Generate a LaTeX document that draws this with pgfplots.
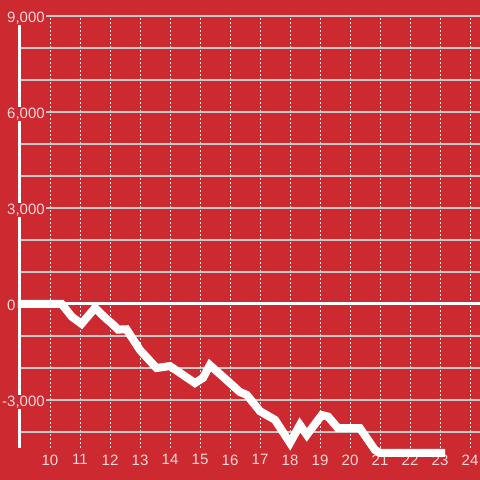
\documentclass[border=0pt]{standalone}
\usepackage{pgfplots}
\pgfplotsset{compat=1.18}
\usepackage{fontspec}
\setmainfont{Liberation Sans}
\definecolor{bg}{RGB}{204,42,48}
\definecolor{lbl}{RGB}{245,215,215}
\definecolor{hgrid}{RGB}{205,200,200}
\definecolor{vgrid}{RGB}{238,228,228}
\begin{document}
\begin{tikzpicture}[x=1pt,y=1pt]
\fill[bg] (0,0) rectangle (480,480);
\begin{axis}[
    at={(20pt,32pt)}, anchor=south west,
    scale only axis, width=460pt, height=432pt,
    xmin=9, xmax=24.333, ymin=-4500, ymax=9000,
    clip=false,
    axis lines=left,
    x axis line style={draw=none},
    y axis line style={draw=white, line width=3pt, -},
    major tick length=0pt, minor tick length=0pt,
    xtick={10,...,24},
    ytick={-3000,0,3000,6000,9000},
    yticklabels={{\llap{-}3,000},0,{3,000},{6,000},{9,000}},
    minor ytick={-4000,-3000,...,9000},
    xmajorgrids, yminorgrids,
    major grid style={vgrid, line width=0.9pt, dash pattern=on 2pt off 2pt},
    minor grid style={hgrid, line width=1.1pt},
    extra y ticks={0}, extra y tick labels={},
    extra y tick style={grid=major, major grid style={solid, white, line width=3pt}},
    every tick label/.append style={font=\fontsize{15}{18}\selectfont, text=lbl},
    xticklabel style={/pgf/number format/assume math mode=true, yshift=-3pt},
    yticklabel style={anchor=base west, xshift=-14pt, yshift=-6.5pt, fill=bg, inner sep=1pt},
  ]
  \addplot[white, line width=8pt] coordinates {
    (8.93,0) (10.39,0) (10.73,-400) (11.05,-620) (11.5,-120) (11.85,-440)
    (12.05,-600) (12.27,-800) (12.55,-790) (13,-1440) (13.55,-2000)
    (14.0,-1940) (14.83,-2470) (15.1,-2310) (15.33,-1910) (16.0,-2470)
    (16.33,-2750) (16.56,-2840) (17.0,-3350) (17.5,-3620) (18.0,-4340)
    (18.33,-3780) (18.56,-4090) (19.06,-3470) (19.27,-3520) (19.6,-3880)
    (20.33,-3880) (20.83,-4560) (21.0,-4650) (23.17,-4650)
  };
\end{axis}
\pgfresetboundingbox
\path[use as bounding box] (0,0) rectangle (480,480);
\end{tikzpicture}
\end{document}
